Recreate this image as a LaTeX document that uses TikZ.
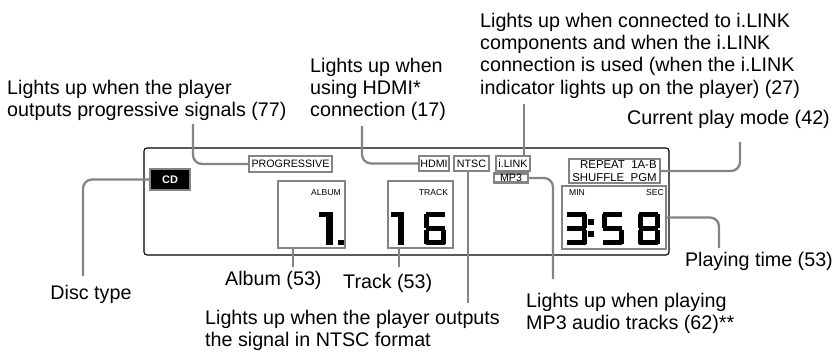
\documentclass[tikz,border=0pt]{standalone}
\usepackage{fontspec}
\setmainfont{Liberation Sans}
\definecolor{lg}{RGB}{132,132,132}
\newcommand\sgA{\fill (1.5,0) rectangle (20.5,5);}
\newcommand\sgF{\fill (0,1.5) rectangle (5,15.5);}
\newcommand\sgB{\fill (17,1.5) rectangle (22,15.5);}
\newcommand\sgG{\fill (1.5,14) rectangle (20.5,19);}
\newcommand\sgE{\fill (0,17.5) rectangle (5,31.5);}
\newcommand\sgC{\fill (17,17.5) rectangle (22,31.5);}
\newcommand\sgD{\fill (1.5,28) rectangle (20.5,33);}
\tikzset{
  lbl/.style={font=\fontsize{19.7}{22.4}\selectfont, inner sep=0pt, align=left},
  gbox/.style={draw=lg, line width=2.3pt, fill=white, inner sep=0pt, font=\fontsize{10.7}{12}\selectfont},
  conn/.style={draw=lg, line width=2.3pt, rounded corners=9pt},
  small/.style={inner sep=0pt, font=\fontsize{8.6}{10}\selectfont},
  segone/.pic={\fill (0,0) rectangle (7,5); \fill (7,0) rectangle (13.5,33);},
  segthree/.pic={\sgA\sgB\sgG\sgC\sgD},
  segfive/.pic={\sgA\sgF\sgG\sgC\sgD},
  segsix/.pic={\sgA\sgF\sgG\sgE\sgC\sgD},
  segeight/.pic={\sgA\sgB\sgC\sgD\sgE\sgF\sgG},
}
\begin{document}
\begin{tikzpicture}[x=1pt,y=-1pt]
\useasboundingbox (0,0) rectangle (840,353);
% display frame
\node[draw=black, line width=1.1pt, rounded corners=3pt, minimum width=525pt, minimum height=107pt, inner sep=0pt] (frame) at (406.5,201.5) {};
% indicator boxes
\node[gbox, minimum width=40pt, minimum height=21pt] (cd) at (170,179.5) {};
\fill[black] ([shift={(2.6,2.6)}]cd.north west) rectangle ([shift={(-2.6,-2.6)}]cd.south east);
\node[inner sep=0pt, text=white, font=\bfseries\fontsize{11}{12}\selectfont] (cdt) at (cd) {CD};
\node[gbox, minimum width=83pt, minimum height=15.5pt] (prog) at (290.5,164) {PROGRESSIVE};
\node[gbox, minimum width=34pt, minimum height=9pt] (mp3) at (511,178) {MP3};
\node[gbox, minimum width=30pt, minimum height=15.5pt] (hdmi) at (434,163.5) {HDMI};
\node[gbox, minimum width=35pt, minimum height=15.5pt] (ntsc) at (471.5,163.5) {NTSC};
\node[gbox, minimum width=34pt, minimum height=15.5pt] (ilink) at (513,163.5) {i.LINK};
\node[gbox, minimum width=91pt, minimum height=24pt, align=right, font=\fontsize{11.4}{13}\selectfont] (rep) at (614.5,171) {REPEAT\ \ 1A-B\\SHUFFLE\ \ PGM};
\node[gbox, minimum width=67pt, minimum height=67pt] (album) at (311.5,214.5) {};
\node[gbox, minimum width=65pt, minimum height=67pt] (track) at (420.5,214.5) {};
\node[gbox, minimum width=104pt, minimum height=63pt] (time) at (614,217.5) {};
\node[small] (albt) at (326,193) {ALBUM};
\node[small] (trkt) at (433.5,193) {TRACK};
\node[small] (mint) at (577,193) {MIN};
\node[small] (sect) at (655,193) {SEC};
% digits
\pic at (319,212) {segone};
\fill (338,239.5) rectangle (343.5,245);
\pic at (390.5,212) {segone};
\pic at (424,212) {segsix};
\pic at (565,212) {segthree};
\fill (588,219) rectangle (593.5,225);
\fill (588,231) rectangle (593.5,237);
\pic at (601.5,212) {segfive};
\pic at (637.5,212) {segeight};
% free ends of connectors
\coordinate (discEnd) at (83,276);
\coordinate (progEnd) at (193,124);
\coordinate (hdmiEnd) at (362,126);
\coordinate (ilinkEnd) at (524,104);
\coordinate (ntscEnd) at (468,303);
\coordinate (mp3End) at (553,279);
\coordinate (repEnd) at (740,142);
\coordinate (timeEnd) at (719,248);
\coordinate (albEnd) at (293,267);
\coordinate (trkEnd) at (399,267);
% connectors
\draw[conn] (cd.west) -| (discEnd);
\draw[conn] (prog.west) -| (progEnd);
\draw[conn] (hdmi.west) -| (hdmiEnd);
\draw[conn] (ilinkEnd |- ilink.north) -- (ilinkEnd);
\draw[conn] (ntscEnd |- ntsc.south) -- (ntscEnd);
\draw[conn] (mp3.east) -| (mp3End);
\draw[conn] (rep.east) -| (repEnd);
\draw[conn] (time.east) -| (timeEnd);
\draw[conn] (albEnd |- album.south) -- (albEnd);
\draw[conn] (trkEnd |- track.south) -- (trkEnd);
% labels
\node[lbl, anchor=north west] (progL) at (7,79.7) {Lights up when the player\\outputs progressive signals (77)};
\node[lbl, anchor=north west] (hdmiL) at (310,57.7) {Lights up when\\using HDMI*\\connection (17)};
\node[lbl, anchor=north west] (ilinkL) at (480,12.7) {Lights up when connected to i.LINK\\components and when the i.LINK\\connection is used (when the i.LINK\\indicator lights up on the player) (27)};
\node[lbl, anchor=north east] (repL) at (830,109.7) {Current play mode (42)};
\node[lbl, anchor=north] (discL) at (91,284.7) {Disc type};
\node[lbl, anchor=north west] (albL) at (225,270.7) {Album (53)};
\node[lbl, anchor=north west] (trkL) at (343,273.7) {Track (53)};
\node[lbl, anchor=north west] (ntscL) at (205,309.7) {Lights up when the player outputs\\the signal in NTSC format};
\node[lbl, anchor=north west] (mp3L) at (526,292.7) {Lights up when playing\\MP3 audio tracks (62)**};
\node[lbl, anchor=north east] (timeL) at (833,252.2) {Playing time (53)};
\end{tikzpicture}
\end{document}
